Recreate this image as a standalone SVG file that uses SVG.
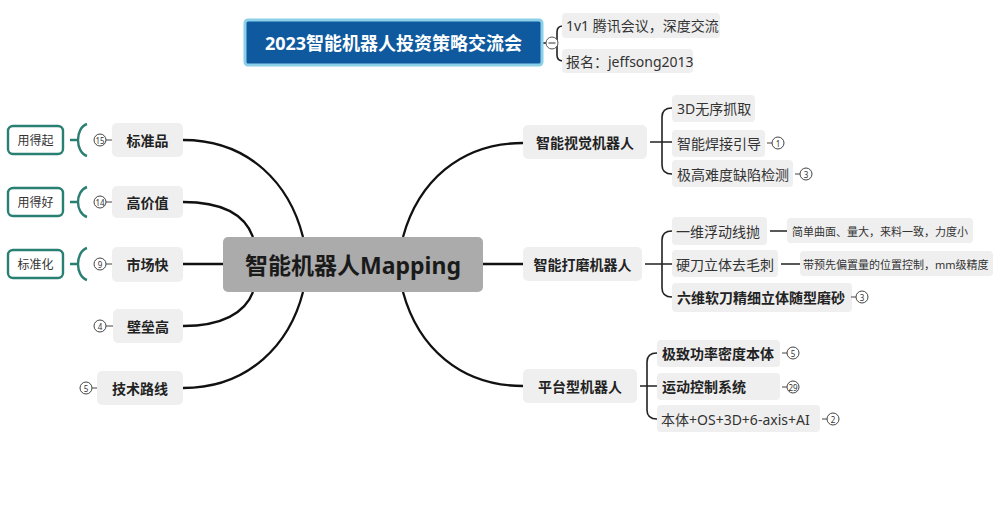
<svg xmlns="http://www.w3.org/2000/svg" width="1000" height="511" viewBox="0 0 1000 511">
<style>
text{font-family:"Noto Sans","Noto Sans CJK SC",sans-serif;dominant-baseline:central}
.box{fill:#efefef}
.bt{font-size:14px;font-weight:bold;fill:#222;text-anchor:middle}
.ct{font-size:14px;fill:#333}
.cb{font-size:14px;font-weight:bold;fill:#222}
.st{font-size:11px;fill:#333}
.main{fill:none;stroke:#111;stroke-width:2.3}
.br{fill:none;stroke:#222;stroke-width:1.6}
.num circle{fill:#fff;stroke:#444;stroke-width:1}
.num text{font-size:8px;fill:#333;text-anchor:middle}
.dash{stroke:#444;stroke-width:1}
.teal{fill:none;stroke:#2a7f73;stroke-width:2.4}
.tt{font-size:12px;fill:#333;text-anchor:middle}
</style>
<rect width="1000" height="511" fill="#fff"/>
<g id="connectors">
<path class="main" d="M183,140 C250,140 290,185 303,237"/>
<path class="main" d="M183,202 C222,202 245,215 253,237"/>
<path class="main" d="M183,264 H223"/>
<path class="main" d="M183,326 C222,326 245,313 253,292"/>
<path class="main" d="M183,388 C250,388 290,343 303,292"/>
<path class="main" d="M403,237 C418,182 460,143 523,143"/>
<path class="main" d="M483,264 H523"/>
<path class="main" d="M403,292 C418,347 460,386 523,386"/>
<path class="br" d="M650,142 H672 M672,108 Q662,108 662,117 V165 Q662,174 672,174"/>
<path class="br" d="M645,264 H672 M672,231 Q662,231 662,240 V288 Q662,297 672,297"/>
<path class="br" d="M640,386 H657 M657,353 Q647,353 647,362 V410 Q647,419 657,419"/>
<path class="br" d="M770,231 H787 M781,264 H800"/>
<path class="br" d="M542,43 H546 M563,26 Q557,26 557,32 V55 Q557,61 563,61"/>
<path class="teal" d="M87,124 C75,128 75,152 87,156 M77,140 H70"/>
<path class="teal" d="M87,187 C75,191 75,213 87,217 M77,202 H70"/>
<path class="teal" d="M87,248 C75,252 75,276 87,280 M77,264 H70"/>
</g>
<g id="top">
<rect x="245" y="20" width="297" height="45" rx="3" fill="#0f5a9e" stroke="#8ccfe8" stroke-width="3"/>
<text x="393.5" y="43" font-size="18" font-weight="bold" fill="#fff" text-anchor="middle">2023智能机器人投资策略交流会</text>
<circle cx="552" cy="43" r="6" fill="#fff" stroke="#555" stroke-width="1"/>
<line x1="548.5" y1="43" x2="555.5" y2="43" stroke="#555" stroke-width="1.2"/>
</g>
<g id="top-sub1"><rect class="box" x="562" y="13" width="158" height="25" rx="4"/><text class="ct" x="566" y="25.5">1v1 腾讯会议，深度交流</text></g>
<g id="top-sub2"><rect class="box" x="562" y="49" width="131" height="24" rx="4"/><text class="ct" x="566" y="61">报名：jeffsong2013</text></g>
<g id="center">
<rect x="223" y="237" width="260" height="55" rx="5" fill="#ababab"/>
<text x="353" y="264.5" font-size="23" font-weight="bold" fill="#1a1a1a" text-anchor="middle">智能机器人Mapping</text>
</g>
<g id="n-biaozhunpin">
<rect class="box" x="112" y="123" width="71" height="34" rx="5"/><text class="bt" x="147.5" y="140">标准品</text>
<g class="num"><line class="dash" x1="106" y1="140" x2="112" y2="140"/><circle cx="100" cy="140" r="6"/><text x="100" y="140.5">15</text></g>
</g>
<g id="n-gaojiazhi">
<rect class="box" x="112" y="186" width="71" height="32" rx="5"/><text class="bt" x="147.5" y="202">高价值</text>
<g class="num"><line class="dash" x1="106" y1="202" x2="112" y2="202"/><circle cx="100" cy="202" r="6"/><text x="100" y="202.5">14</text></g>
</g>
<g id="n-shichangkuai">
<rect class="box" x="112" y="247" width="71" height="35" rx="5"/><text class="bt" x="147.5" y="264">市场快</text>
<g class="num"><line class="dash" x1="106" y1="264" x2="112" y2="264"/><circle cx="100" cy="264" r="6"/><text x="100" y="264.5">9</text></g>
</g>
<g id="n-bileigao">
<rect class="box" x="113" y="309" width="70" height="34" rx="5"/><text class="bt" x="148" y="326">壁垒高</text>
<g class="num"><line class="dash" x1="106" y1="326" x2="113" y2="326"/><circle cx="100" cy="326" r="6"/><text x="100" y="326.5">4</text></g>
</g>
<g id="n-jishuluxian">
<rect class="box" x="97" y="371" width="86" height="34" rx="5"/><text class="bt" x="140" y="388">技术路线</text>
<g class="num"><line class="dash" x1="92" y1="388" x2="97" y2="388"/><circle cx="86" cy="388" r="6"/><text x="86" y="388.5">5</text></g>
</g>
<g id="s-yongdeqi"><rect x="8" y="126" width="55" height="28" rx="5" fill="#fff" class="teal"/><text class="tt" x="35.5" y="140">用得起</text></g>
<g id="s-yongdehao"><rect x="8" y="188" width="55" height="28" rx="5" fill="#fff" class="teal"/><text class="tt" x="35.5" y="202">用得好</text></g>
<g id="s-biaozhunhua"><rect x="8" y="250" width="55" height="28" rx="5" fill="#fff" class="teal"/><text class="tt" x="35.5" y="264">标准化</text></g>
<g id="n-shijue">
<rect class="box" x="523" y="125" width="124" height="34" rx="5"/><text class="bt" x="585" y="142">智能视觉机器人</text>
</g>
<g id="c-3d"><rect class="box" x="672" y="95" width="83" height="27" rx="4"/><text class="ct" x="677" y="108">3D无序抓取</text></g>
<g id="c-hanjie"><rect class="box" x="672" y="130" width="93" height="27" rx="4"/><text class="ct" x="677" y="143">智能焊接引导</text>
<g class="num"><line class="dash" x1="767" y1="143" x2="772" y2="143"/><circle cx="778" cy="143" r="6"/><text x="778" y="143.5">1</text></g></g>
<g id="c-quexian"><rect class="box" x="672" y="160" width="121" height="27" rx="4"/><text class="ct" x="677" y="174">极高难度缺陷检测</text>
<g class="num"><line class="dash" x1="795" y1="174" x2="800" y2="174"/><circle cx="806" cy="174" r="6"/><text x="806" y="174.5">3</text></g></g>
<g id="n-damo">
<rect class="box" x="523" y="247" width="119" height="34" rx="5"/><text class="bt" x="582.5" y="264">智能打磨机器人</text>
</g>
<g id="c-xianpao"><rect class="box" x="672" y="217" width="95" height="28" rx="4"/><text class="ct" x="676" y="231" font-size="15">一维浮动线抛</text></g>
<g id="d-xianpao"><rect class="box" x="787" y="218" width="186" height="25" rx="4"/><text class="st" x="792" y="231">简单曲面、量大，来料一致，力度小</text></g>
<g id="c-maoci"><rect class="box" x="672" y="250" width="106" height="27" rx="4"/><text class="ct" x="676" y="264" font-size="15">硬刀立体去毛刺</text></g>
<g id="d-maoci"><rect class="box" x="800" y="251" width="193" height="25" rx="4"/><text class="st" x="803" y="264">带预先偏置量的位置控制，mm级精度</text></g>
<g id="c-mosha"><rect class="box" x="672" y="283" width="180" height="29" rx="4"/><text class="cb" x="677" y="297">六维软刀精细立体随型磨砂</text>
<g class="num"><line class="dash" x1="851" y1="297" x2="856" y2="297"/><circle cx="862" cy="297" r="6"/><text x="862" y="297.5">3</text></g></g>
<g id="n-pingtai">
<rect class="box" x="523" y="369" width="114" height="34" rx="5"/><text class="bt" x="580" y="386">平台型机器人</text>
</g>
<g id="c-benti"><rect class="box" x="657" y="340" width="123" height="27" rx="4"/><text class="cb" x="662" y="353">极致功率密度本体</text>
<g class="num"><line class="dash" x1="782" y1="353" x2="787" y2="353"/><circle cx="793" cy="353" r="6"/><text x="793" y="353.5">5</text></g></g>
<g id="c-yundong"><rect class="box" x="657" y="373" width="123" height="27" rx="4"/><text class="cb" x="662" y="386">运动控制系统</text>
<g class="num"><line class="dash" x1="782" y1="387" x2="787" y2="387"/><circle cx="793" cy="387" r="6"/><text x="793" y="387.5">29</text></g></g>
<g id="c-os"><rect class="box" x="657" y="405" width="163" height="27" rx="4"/><text class="ct" x="661" y="419">本体+OS+3D+6-axis+AI</text>
<g class="num"><line class="dash" x1="822" y1="419" x2="827" y2="419"/><circle cx="833" cy="419" r="6"/><text x="833" y="419.5">2</text></g></g>
</svg>
